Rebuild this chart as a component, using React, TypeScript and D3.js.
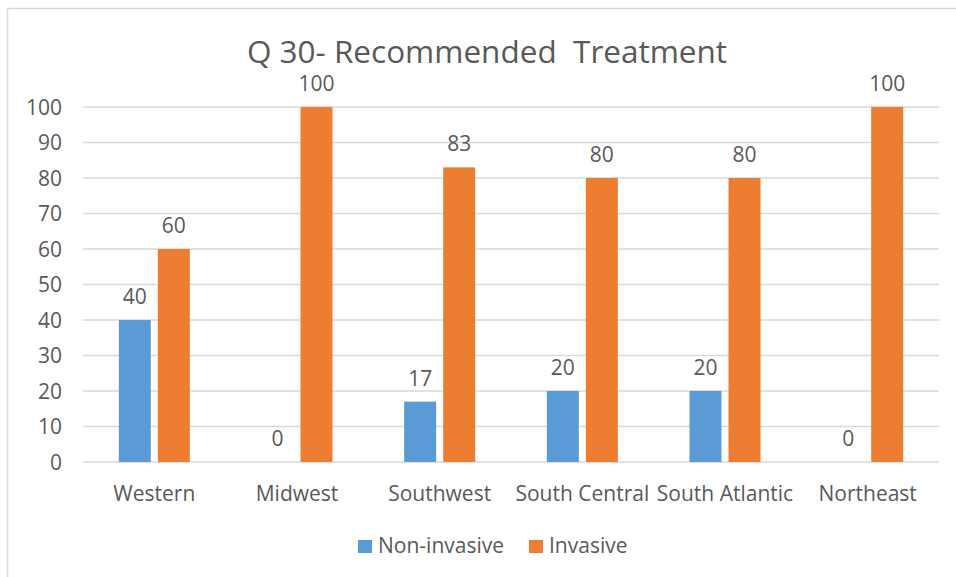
import React from "react";
import * as d3 from "d3";

const categories = ["Western", "Midwest", "Southwest", "South Central", "South Atlantic", "Northeast"];
const seriesNames = ["Non-invasive", "Invasive"];
const nonInvasive = [40, 0, 17, 20, 20, 0];
const invasive = [60, 100, 83, 80, 80, 100];
const yTicks = [0, 10, 20, 30, 40, 50, 60, 70, 80, 90, 100];
const colors = ["#5B9BD5", "#ED7D31"];
const title = "Q 30- Recommended  Treatment";

const W = 956;
const H = 577;
const FONT = "'Open Sans', sans-serif";
const TEXT = "#595959";
const FS = 21;

export default function App() {
  const x = d3.scaleBand<string>().domain(categories).range([83, 939]).padding(0);
  const y = d3.scaleLinear().domain([0, 100]).range([462, 107]);
  const sub = d3.scaleBand<string>().domain(seriesNames).range([-35.5, 35.5]).paddingInner(0.18);
  const values = [nonInvasive, invasive];

  return (
    <svg width={W} height={H} style={{ position: "absolute", left: 0, top: 0, background: "#fff" }} fontFamily={FONT}>
      <rect x={7.5} y={8.5} width={1000} height={1000} fill="#fff" stroke="#D9D9D9" strokeWidth={1.5} />
      <text x={487} y={63} textAnchor="middle" fontSize={31.5} fill={TEXT} style={{ whiteSpace: "pre" }}>
        {title}
      </text>
      {yTicks.map((t) => (
        <g key={t}>
          <line x1={83} x2={939} y1={y(t)} y2={y(t)} stroke="#D9D9D9" strokeWidth={1.5} />
          <text x={62} y={y(t)} dy="0.36em" textAnchor="end" fontSize={FS} fill={TEXT}>
            {t}
          </text>
        </g>
      ))}
      {categories.map((c, i) => {
        const cx = (x(c) as number) + x.bandwidth() / 2;
        return (
          <g key={c}>
            {seriesNames.map((s, j) => {
              const v = values[j][i];
              const bx = cx + (sub(s) as number);
              return (
                <g key={s}>
                  {v > 0 && (
                    <rect x={bx} y={y(v)} width={sub.bandwidth()} height={y(0) - y(v)} fill={colors[j]} />
                  )}
                  <text x={bx + sub.bandwidth() / 2} y={y(v) - 16} textAnchor="middle" fontSize={FS} fill={TEXT}>
                    {v}
                  </text>
                </g>
              );
            })}
            <text x={cx} y={501} textAnchor="middle" fontSize={FS} fill={TEXT}>
              {c}
            </text>
          </g>
        );
      })}
      {seriesNames.map((s, j) => {
        const lx = [358, 529][j];
        return (
          <g key={s}>
            <rect x={lx} y={540} width={14} height={13} fill={colors[j]} />
            <text x={lx + 20} y={553} fontSize={FS} fill={TEXT}>
              {s}
            </text>
          </g>
        );
      })}
    </svg>
  );
}
